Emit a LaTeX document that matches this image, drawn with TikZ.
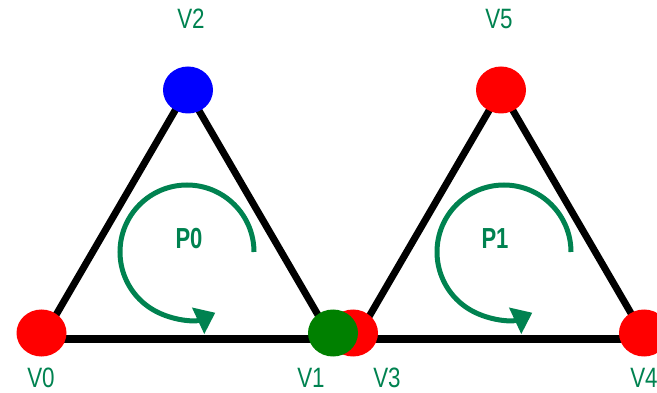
\documentclass[tikz,border=0pt]{standalone}
\usepackage{fontspec}
\setmainfont{Liberation Sans}
\usetikzlibrary{arrows.meta,shapes.geometric}
\definecolor{lblgreen}{RGB}{0,130,80}
\definecolor{vgreen}{RGB}{0,128,0}
\begin{document}
\begin{tikzpicture}[x=1pt,y=-1pt,
  edge/.style={line width=7pt, line join=miter},
  vtx/.style={ellipse, inner sep=0pt, minimum width=50pt, minimum height=47pt},
  lbl/.style={text=lblgreen, inner sep=0pt, font=\fontsize{28}{28}\selectfont, xscale=0.8},
  plbl/.style={text=lblgreen, inner sep=0pt, font=\fontsize{29}{29}\selectfont\bfseries, xscale=0.76},
  turn/.style={draw=lblgreen, line width=5pt, -{Triangle[length=19pt,width=28pt]}}]
\useasboundingbox (0,0) rectangle (657,393);
% line corners
\coordinate (c0) at (42,339);
\coordinate (c2) at (187,90);
\coordinate (c1) at (332,339);
\coordinate (c3) at (356,339);
\coordinate (c5) at (501,90);
\coordinate (c4) at (646,339);
\draw[edge] (c0) -- (c4);
\draw[edge] (c0) -- (c2) -- (c1);
\draw[edge] (c3) -- (c5) -- (c4);
% vertices
\node[vtx, fill=red] (v0) at (41.5,333) {};
\node[vtx, fill=blue] (v2) at (188,90) {};
\node[vtx, fill=red] (v3) at (353,333) {};
\node[vtx, fill=vgreen] (v1) at (333,333) {};
\node[vtx, fill=red] (v5) at (501,90) {};
\node[vtx, fill=red] (v4) at (644,333) {};
% labels
\node[lbl] (l2) at (191,19) {V2};
\node[lbl] (l5) at (499,19) {V5};
\node[lbl] (l0) at (41,377.5) {V0};
\node[lbl] (l1) at (311,377.5) {V1};
\node[lbl] (l3) at (387,377.5) {V3};
\node[lbl] (l4) at (644,377.5) {V4};
\node[plbl] (p0) at (189,238.5) {P0};
\node[plbl] (p1) at (495,238.5) {P1};
% rotation arrows
\draw[turn] (254,252) arc[start angle=0, end angle=-295, radius=67];
\draw[turn] (571,252) arc[start angle=0, end angle=-295, radius=67];
\end{tikzpicture}
\end{document}
